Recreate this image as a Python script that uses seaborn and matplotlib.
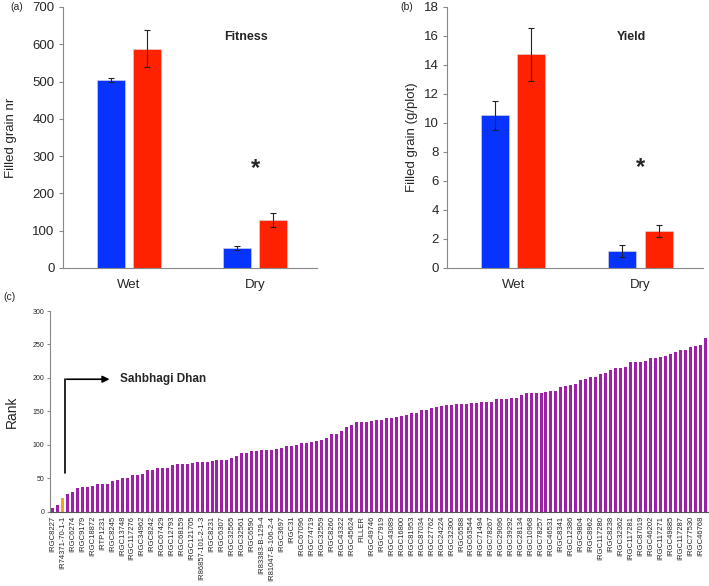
import numpy as np
import pandas as pd
import matplotlib
matplotlib.use("Agg")
import matplotlib.pyplot as plt
import seaborn as sns

# ---------------- data ----------------
conditions = ["Wet", "Dry"]
genotypes = ["G1", "G2"]
fitness_blue = [504, 54]
fitness_red = [588, 129]
fitness_blue_err = [6, 6]
fitness_red_err = [50, 19]

yield_blue = [10.55, 1.18]
yield_red = [14.73, 2.56]
yield_blue_err = [1.0, 0.42]
yield_red_err = [1.82, 0.42]

rank_values = [6, 10, 20, 26, 30, 36, 37, 37, 38, 41,
               41, 42, 46, 48, 50, 50, 55, 55, 57, 62,
               62, 65, 65, 66, 70, 71, 72, 72, 73, 74,
               74, 74, 76, 78, 78, 78, 81, 84, 88, 88,
               91, 91, 92, 92, 92, 93, 95, 98, 98, 100,
               102, 103, 104, 106, 107, 110, 116, 116, 121, 127,
               130, 134, 134, 134, 135, 137, 137, 140, 140, 141,
               143, 145, 147, 147, 152, 152, 155, 157, 158, 159,
               159, 161, 161, 161, 163, 163, 164, 164, 164, 168,
               169, 169, 170, 170, 174, 177, 177, 177, 178, 179,
               181, 181, 186, 188, 190, 191, 197, 199, 201, 201,
               206, 208, 212, 215, 215, 216, 224, 224, 224, 225,
               230, 230, 231, 232, 236, 239, 241, 242, 246, 248,
               249, 259]
highlight_index = 2

rank_labels = ["IRGC8227", "IR74371-70-1-1", "IRGC6274", "IRGC9179", "IRGC18872",
               "IRTP1231", "IRGC8245", "IRGC13748", "IRGC117276", "IRGC34962",
               "IRGC8242", "IRGC67429", "IRGC12793", "IRGC68159", "IRGC121705",
               "IR86857-101-2-1-3", "IRGC8231", "IRGC6307", "IRGC32565", "IRGC32561",
               "IRGC6590", "IR83383-B-129-4", "IR81047-B-106-2-4", "IRGC3697", "IRGC31",
               "IRGC67096", "IRGC74719", "IRGC32559", "IRGC8260", "IRGC43322",
               "IRGC45624", "FILLER", "IRGC49746", "IRGC7919", "IRGC43089",
               "IRGC16800", "IRGC81953", "IRGC87034", "IRGC27762", "IRGC24224",
               "IRGC32300", "IRGC6588", "IRGC63544", "IRGC71494", "IRGC78267",
               "IRGC29096", "IRGC39292", "IRGC28134", "IRGC10968", "IRGC78257",
               "IRGC46531", "IRGC8341", "IRGC12386", "IRGC9804", "IRGC8962",
               "IRGC117280", "IRGC8238", "IRGC32362", "IRGC117281", "IRGC87019",
               "IRGC46202", "IRGC117271", "IRGC49885", "IRGC117287", "IRGC77530",
               "IRGC46768"]

BLUE = "#0733FF"
RED = "#FF2200"
PURPLE = "#9E1FA8"
ORANGE = "#F5A020"

sns.set_style("white")
plt.rcParams["font.family"] = ["Liberation Sans", "DejaVu Sans"]

fig = plt.figure(figsize=(7.09, 5.86), dpi=100)

def px_axes(left, top, right, bottom):
    W, H = 709, 586
    return fig.add_axes([left / W, 1 - bottom / H, (right - left) / W, (bottom - top) / H])

def bar_panel(ax, blue, red, berr, rerr, ymax, ystep, ylabel, title, title_y, star_y, lpad):
    df = pd.DataFrame({
        "cond": conditions * 2,
        "geno": [genotypes[0]] * 2 + [genotypes[1]] * 2,
        "val": list(blue) + list(red),
    })
    sns.barplot(data=df, x="cond", y="val", hue="geno", order=conditions,
                hue_order=genotypes, palette=[BLUE, RED], width=0.57, gap=0.23,
                errorbar=None, legend=False, ax=ax, edgecolor="#dddddd", linewidth=0.4,
                saturation=1)
    errs = [berr, rerr]
    for cont, err in zip(ax.containers, errs):
        for bar, e in zip(cont, err):
            ax.errorbar(bar.get_x() + bar.get_width() / 2, bar.get_height(), yerr=e,
                        color="#222222", elinewidth=0.8, capsize=2, capthick=0.8)
    ax.set_xlim(-0.52, 1.49)
    ax.set_ylim(0, ymax)
    ax.set_yticks(np.arange(0, ymax + 0.001, ystep))
    ax.set_xlabel("")
    ax.set_ylabel(ylabel, fontsize=9.5, labelpad=lpad)
    for s in ["top", "right"]:
        ax.spines[s].set_visible(False)
    ax.spines["left"].set_color("#888888")
    ax.spines["bottom"].set_color("#888888")
    ax.tick_params(axis="y", labelsize=9.5, length=3, color="#888888", pad=3, left=True)
    ax.tick_params(axis="x", labelsize=9.5, length=0, pad=8)
    ax.text(0.93, title_y, title, fontsize=9, fontweight="bold", ha="center", va="center")
    ax.text(1.0, star_y, "*", fontsize=17, fontweight="bold", ha="center", va="center")

ax_a = px_axes(63, 7, 317, 268)
bar_panel(ax_a, fitness_blue, fitness_red, fitness_blue_err, fitness_red_err,
          700, 100, "Filled grain nr", "Fitness", 620, 268, 11)

ax_b = px_axes(447, 7, 703, 268)
bar_panel(ax_b, yield_blue, yield_red, yield_blue_err, yield_red_err,
          18, 2, "Filled grain (g/plot)", "Yield", 15.9, 6.9, 4)

# panel c
ax_c = px_axes(50, 311, 708, 511.7)
dfc = pd.DataFrame({"pos": np.arange(len(rank_values)), "rank": rank_values})
colors = [ORANGE if i == highlight_index else PURPLE for i in range(len(rank_values))]
sns.barplot(data=dfc, x="pos", y="rank", hue="pos", palette=colors, width=0.6,
            legend=False, ax=ax_c, saturation=1, linewidth=0)
ax_c.set_xlim(-0.5, len(rank_values) - 0.5)
ax_c.set_ylim(0, 300)
ax_c.set_yticks(np.arange(0, 301, 50))
ax_c.set_xticks(np.arange(0, len(rank_values), 2)[:len(rank_labels)])
ax_c.set_xticklabels(rank_labels, rotation=90, fontsize=5.5)
ax_c.tick_params(axis="x", length=0, pad=3)
ax_c.tick_params(axis="y", labelsize=5, length=2, color="#888888", pad=2, left=True)
ax_c.set_xlabel("")
ax_c.set_ylabel("Rank", fontsize=10, labelpad=10)
for s in ["top", "right"]:
    ax_c.spines[s].set_visible(False)
ax_c.spines["left"].set_color("#888888")
ax_c.spines["bottom"].set_color("#555555")

ax_c.plot([2.5, 2.5], [58, 198], color="black", lw=1.2)
ax_c.annotate("", xy=(12.0, 198), xytext=(2.3, 198),
              arrowprops=dict(arrowstyle="-|>", color="black", lw=1.2, mutation_scale=10))
ax_c.text(13.5, 198, "Sahbhagi Dhan", fontsize=8.5, fontweight="bold",
          ha="left", va="center")

fig.text(10 / 709, 1 - 7 / 586, "(a)", fontsize=7.5, ha="left", va="center")
fig.text(400 / 709, 1 - 7 / 586, "(b)", fontsize=7.5, ha="left", va="center")
fig.text(3 / 709, 1 - 297 / 586, "(c)", fontsize=7.5, ha="left", va="center")

fig.savefig("out.png", dpi=100)
